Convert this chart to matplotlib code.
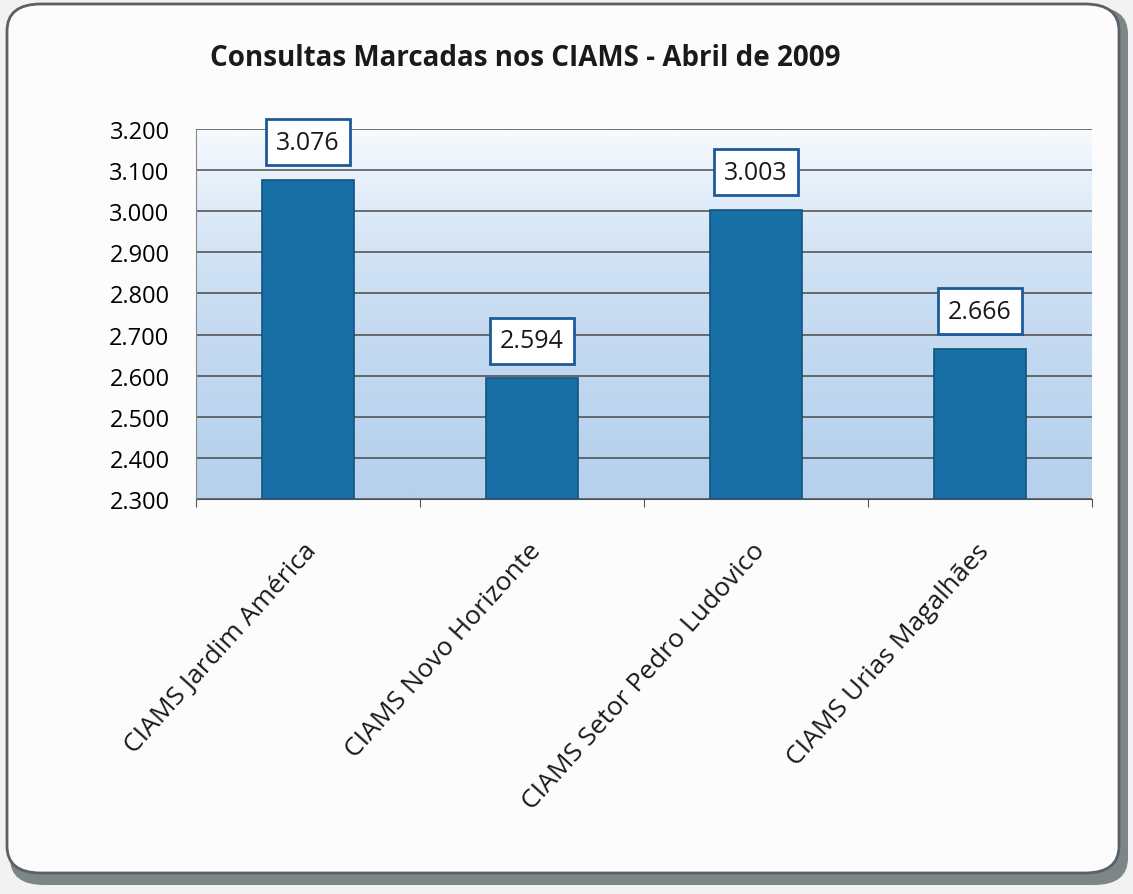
import numpy as np
import matplotlib.pyplot as plt
from matplotlib.patches import FancyBboxPatch
from matplotlib.colors import LinearSegmentedColormap

# dados
categorias = ["CIAMS Jardim América", "CIAMS Novo Horizonte",
              "CIAMS Setor Pedro Ludovico", "CIAMS Urias Magalhães"]
consultas = [3076, 2594, 3003, 2666]
rotulos = ["3.076", "2.594", "3.003", "2.666"]
y_ticks = [2300, 2400, 2500, 2600, 2700, 2800, 2900, 3000, 3100, 3200]
y_labels = ["2.300", "2.400", "2.500", "2.600", "2.700",
            "2.800", "2.900", "3.000", "3.100", "3.200"]

plt.rcParams['font.family'] = ['Open Sans', 'DejaVu Sans']

fig = plt.figure(figsize=(11.33, 8.95), dpi=100)
fig.patch.set_facecolor('#f2f2f2')

# moldura arredondada com sombra
W, H = 1133, 895
sombra = FancyBboxPatch((10 / W, 1 - 886 / H), 1118 / W, 878 / H,
                        boxstyle="round,pad=0,rounding_size=0.03",
                        transform=fig.transFigure, facecolor='#7d8686',
                        edgecolor='none', zorder=0)
moldura = FancyBboxPatch((7 / W, 1 - 874 / H), 1112 / W, 869 / H,
                         boxstyle="round,pad=0,rounding_size=0.03",
                         transform=fig.transFigure, facecolor='#fcfcfd',
                         edgecolor='#5a6068', linewidth=2, zorder=1)
fig.patches.extend([sombra, moldura])

ax = fig.add_axes([196 / W, 1 - 500 / H, 896 / W, 370 / H])
ax.set_zorder(2)

# fundo em degradê da área de plotagem
cmap = LinearSegmentedColormap.from_list('fundo', ['#b7d1ec', '#cfe1f4', '#f7fafe'])
grad = np.linspace(0, 1, 256).reshape(-1, 1) ** 1.5
ax.imshow(grad, aspect='auto', cmap=cmap, origin='lower',
          extent=[-0.5, 3.5, 2300, 3200], zorder=0)

x = np.arange(len(categorias))
ax.bar(x, np.array(consultas) - 2300, bottom=2300, width=0.41,
       color='#186fa6', edgecolor='#0f557f', linewidth=1.2, zorder=3)

# rótulos de dados em caixas
for xi, v, r in zip(x, consultas, rotulos):
    ax.annotate(r, (xi, v), xytext=(0, 27), textcoords='offset points',
                ha='center', va='center', fontsize=18, color='#1a1a1a',
                bbox=dict(boxstyle='square,pad=0.42', facecolor='white',
                          edgecolor='#1c5a9a', linewidth=2), zorder=5)

ax.set_xlim(-0.5, 3.5)
ax.set_ylim(2300, 3200)
ax.set_yticks(y_ticks)
ax.set_yticklabels(y_labels, fontsize=17)
ax.set_xticks(np.arange(-0.5, 4, 1))
ax.set_xticklabels([])
ax.tick_params(axis='x', direction='out', length=6, color='#555555')
ax.tick_params(axis='y', length=0, pad=19)
ax.grid(axis='y', color='#4a4a4a', linewidth=1.1, zorder=1)
ax.set_axisbelow(True)
for s in ['top', 'right']:
    ax.spines[s].set_visible(False)
ax.spines['left'].set_color('#888888')
ax.spines['bottom'].set_color('#555555')

for xi, c in zip(x, categorias):
    ax.text(xi - 0.02, 2205, c, rotation=48, ha='right', va='top',
            fontsize=19, color='#1a1a1a', rotation_mode='anchor',
            transform=ax.transData)

fig.text(525 / W, 1 - 58 / H, "Consultas Marcadas nos CIAMS - Abril de 2009",
         ha='center', va='center', fontsize=20, fontweight='bold',
         color='#1a1a1a')

fig.savefig('out.png', dpi=100, facecolor=fig.get_facecolor())
